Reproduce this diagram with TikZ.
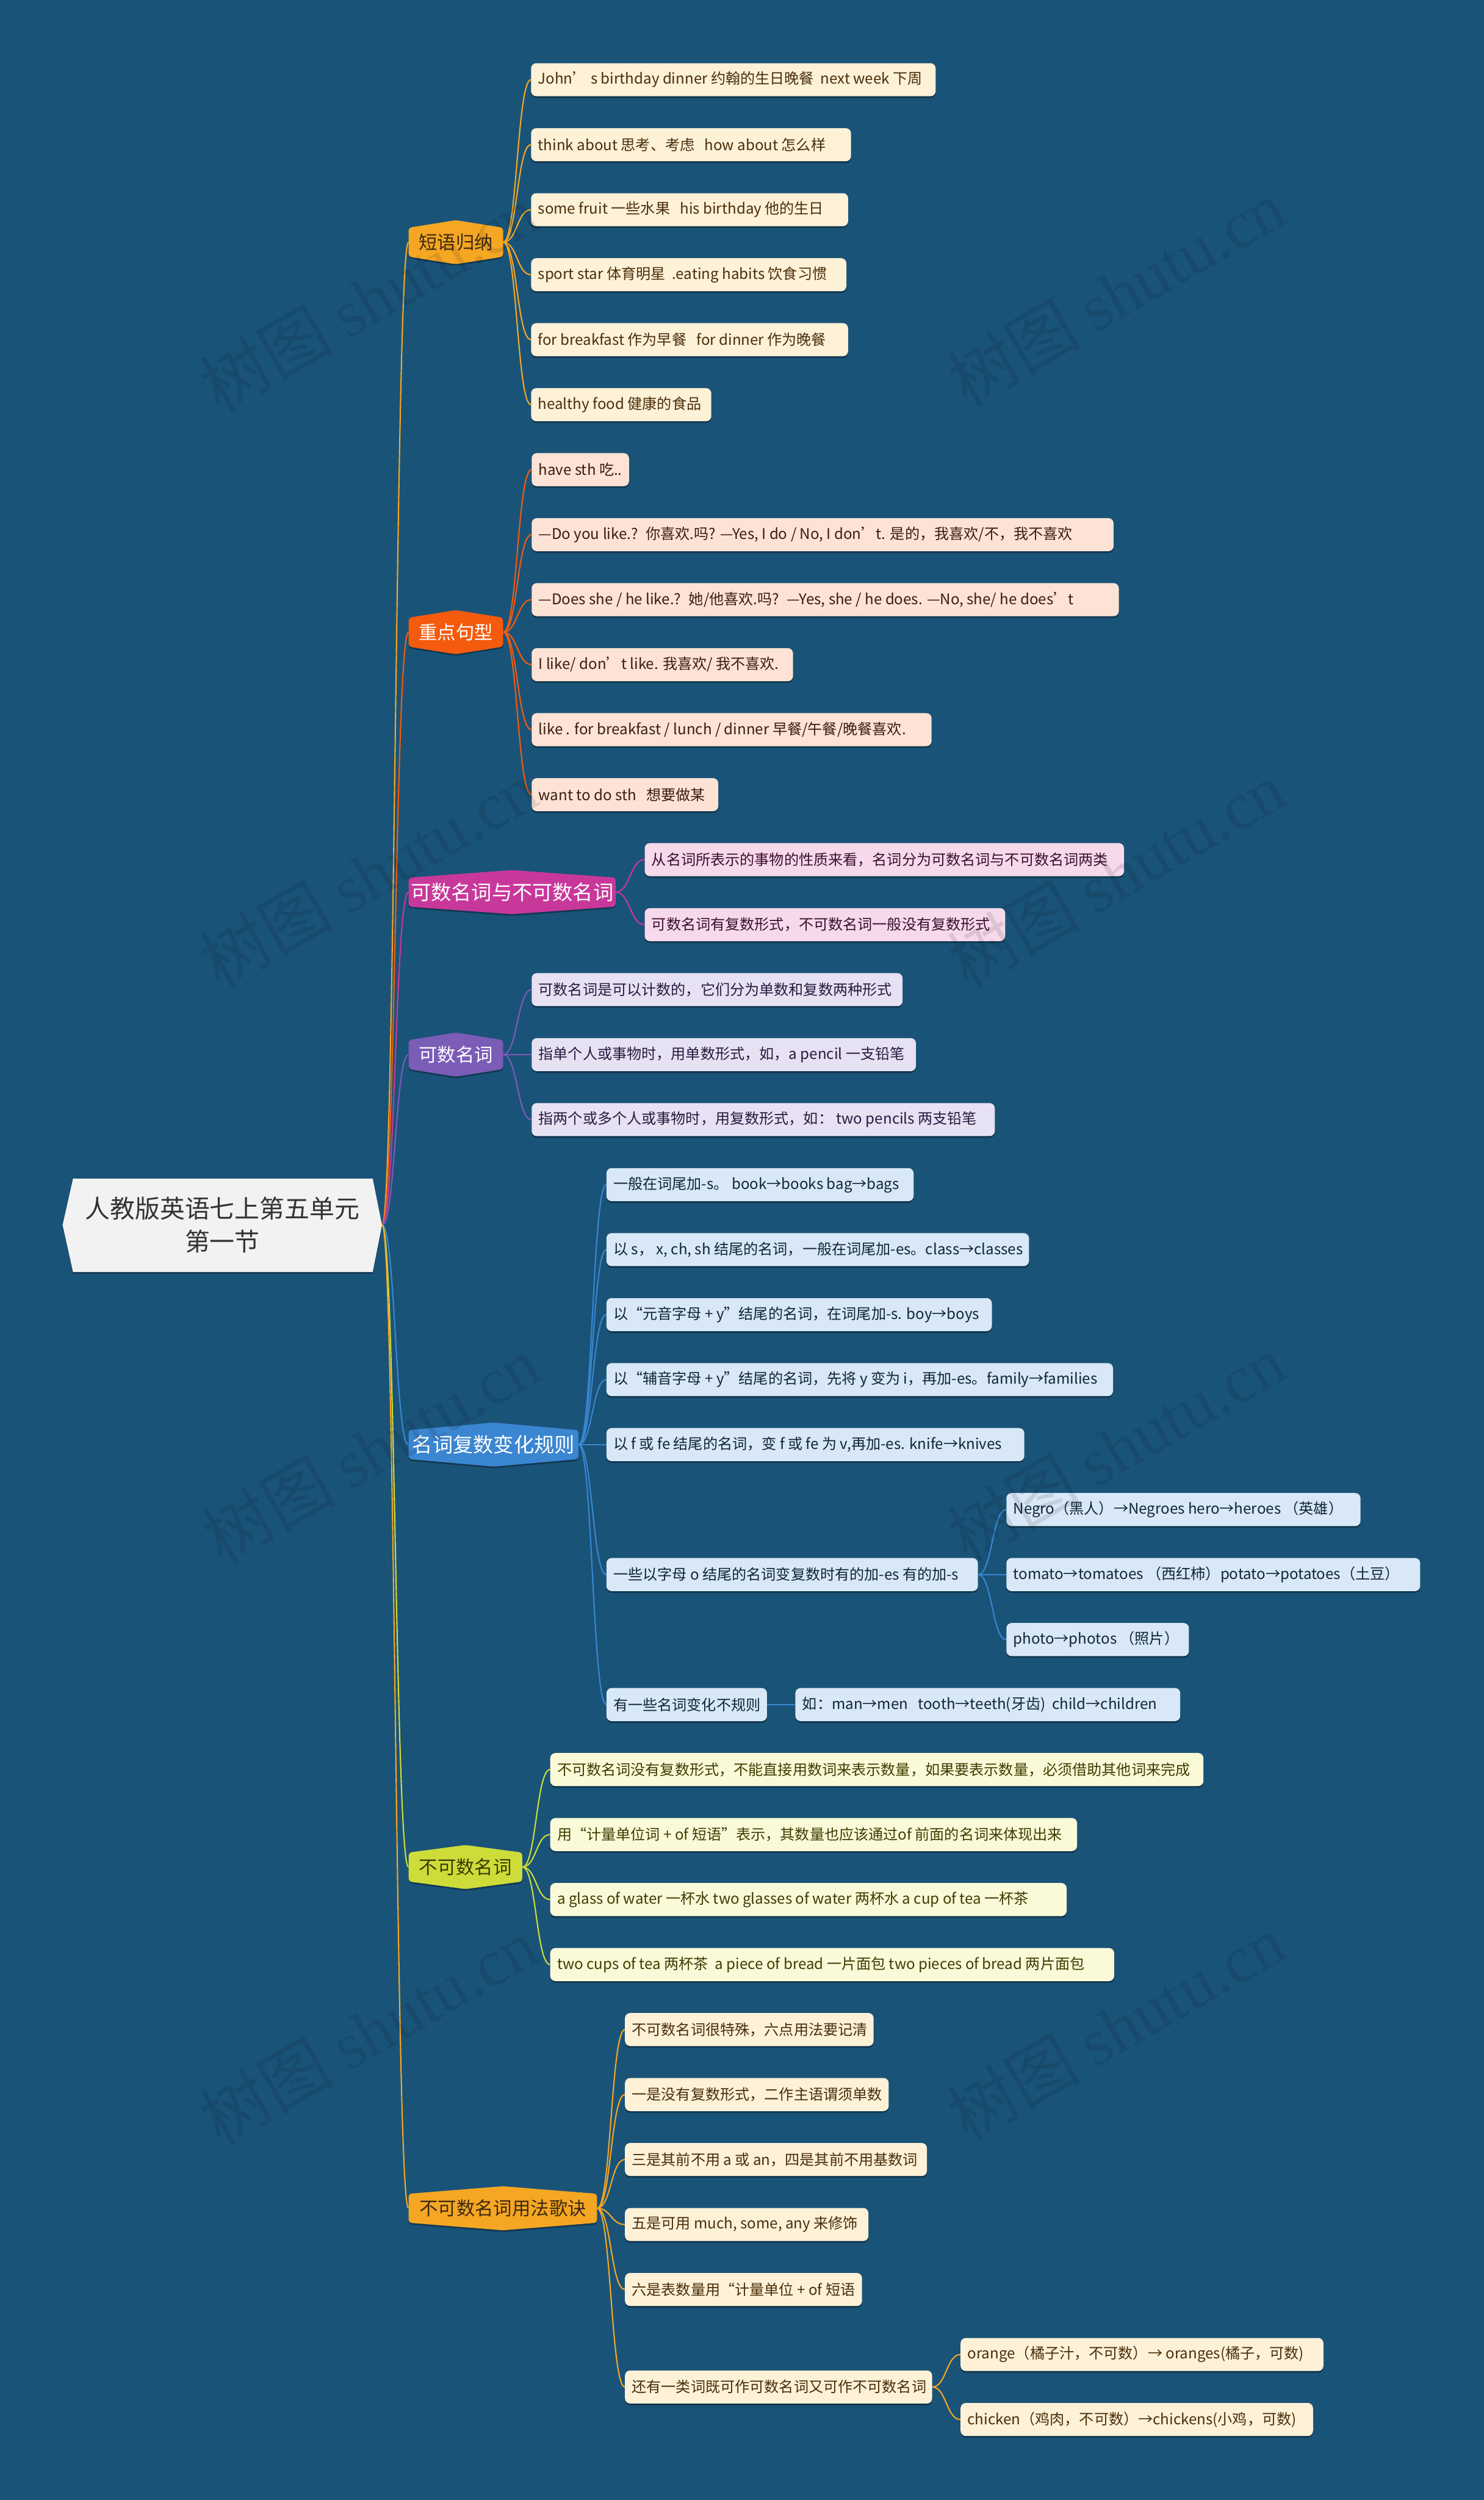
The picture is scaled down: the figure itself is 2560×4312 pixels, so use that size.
\documentclass[tikz,border=0pt]{standalone}
\usepackage{fontspec}
\setmainfont{Noto Sans CJK SC}
\newfontfamily\wmserif{Liberation Serif}
\usetikzlibrary{calc,shadows,backgrounds}
\definecolor{bg}{HTML}{1A5378}
\definecolor{cA}{HTML}{F5A623}
\definecolor{cB}{HTML}{F45B0D}
\definecolor{cC}{HTML}{C8389B}
\definecolor{cD}{HTML}{7B5CB7}
\definecolor{cE}{HTML}{3A86D1}
\definecolor{cF}{HTML}{CDDC39}
\definecolor{lA}{HTML}{FDF1D8}\definecolor{tA}{HTML}{4A2E0A}
\definecolor{lB}{HTML}{FDE3D5}\definecolor{tB}{HTML}{3A1D10}
\definecolor{lC}{HTML}{F7D9EC}\definecolor{tC}{HTML}{3B1030}
\definecolor{lD}{HTML}{E7E2F3}\definecolor{tD}{HTML}{261B3F}
\definecolor{lE}{HTML}{D8E8F6}\definecolor{tE}{HTML}{102539}
\definecolor{lF}{HTML}{FAFAD9}\definecolor{tF}{HTML}{3D3D00}
\definecolor{hA}{HTML}{3D2A10}
\definecolor{hF}{HTML}{3B3B00}
\definecolor{rootfill}{HTML}{F2F2F2}
\definecolor{roottext}{HTML}{333333}
\newcommand\leaffont{\fontsize{25.4pt}{30pt}\selectfont}
\newcommand\leaf[6]{\node[#1] (#2) at (#3,{137.5+112.1*#4}) {\makebox[\dimexpr#5pt-24pt\relax][l]{#6}};}
\newcommand\conn[3]{\draw[#1] let \p1=(#2), \p2=(#3) in (\p1) .. controls ({0.5*\x1+0.5*\x2},\y1) and ({0.5*\x1+0.5*\x2},\y2) .. (\p2);}
\newcommand\hexnode[8]{%
 \fill[black,opacity=0.3,rounded corners=5pt,yshift=-3pt] (#2,#4-25) -- ({(#2+#3)/2},#4-38) -- (#3,#4-25) -- (#3,#4+25) -- ({(#2+#3)/2},#4+38) -- (#2,#4+25) -- cycle;
 \fill[#5,rounded corners=5pt] (#2,#4-25) -- ({(#2+#3)/2},#4-38) -- (#3,#4-25) -- (#3,#4+25) -- ({(#2+#3)/2},#4+38) -- (#2,#4+25) -- cycle;
 \node[inner sep=0pt,minimum width={(#3-#2)*1pt},minimum height=50pt,text=#6,font=\fontsize{#7pt}{#7pt}\selectfont] (#1) at ({(#2+#3)/2},#4) {#8};}
\tikzset{
 leafbase/.style={anchor=west,rounded corners=9pt,minimum height=57pt,inner xsep=12pt,inner ysep=0pt,font=\leaffont,
   drop shadow={shadow xshift=0pt,shadow yshift=-3pt,opacity=0.35,fill=black}},
 leafA/.style={leafbase,fill=lA,text=tA},
 leafB/.style={leafbase,fill=lB,text=tB},
 leafC/.style={leafbase,fill=lC,text=tC},
 leafD/.style={leafbase,fill=lD,text=tD},
 leafE/.style={leafbase,fill=lE,text=tE},
 leafF/.style={leafbase,fill=lF,text=tF},
 link/.style={line width=2.2pt},
 lkA/.style={link,draw=cA},
 lkB/.style={link,draw=cB},
 lkC/.style={link,draw=cC},
 lkD/.style={link,draw=cD},
 lkE/.style={link,draw=cE},
 lkF/.style={link,draw=cF},
 wmark/.style={rotate=30,text=black,opacity=0.1,font=\fontsize{115pt}{115pt}\selectfont}
}
\begin{document}
\begin{tikzpicture}[x=1pt,y=-1pt]
\useasboundingbox (0,0) rectangle (2560,4312);
\begin{pgfonlayer}{background}
\fill[bg] (0,0) rectangle (2560,4312);
\end{pgfonlayer}
% root
\fill[black,opacity=0.3,yshift=-3pt] (108,2113) -- (126,2033) -- (643,2033) -- (659,2113) -- (643,2194) -- (126,2194) -- cycle;
\fill[rootfill] (108,2113) -- (126,2033) -- (643,2033) -- (659,2113) -- (643,2194) -- (126,2194) -- cycle;
\node[align=center,inner sep=0pt,minimum width=551pt,minimum height=161pt,text=roottext,font=\fontsize{43pt}{57pt}\selectfont] (root) at (383.5,2113) {人教版英语七上第五单元\\第一节};
% level 1
\hexnode{b1}{705}{868}{137.5+112.1*2.5}{cA}{hA}{32}{短语归纳}
\hexnode{b2}{705}{868}{137.5+112.1*8.5}{cB}{white}{32}{重点句型}
\hexnode{b3}{705}{1062}{137.5+112.1*12.5}{cC}{white}{35}{可数名词与不可数名词}
\hexnode{b4}{705}{868}{137.5+112.1*15}{cD}{white}{32}{可数名词}
\hexnode{b5}{705}{998}{137.5+112.1*21}{cE}{white}{35}{名词复数变化规则}
\hexnode{b6}{705}{901}{137.5+112.1*27.5}{cF}{hF}{32}{不可数名词}
\hexnode{b7}{705}{1030}{137.5+112.1*32.75}{cA}{hA}{32}{不可数名词用法歌诀}
% leaves
\leaf{leafA}{a0}{916}{0}{698}{John’ s birthday dinner 约翰的生日晚餐 \ next week 下周}
\leaf{leafA}{a1}{916}{1}{552}{think about 思考、考虑 \ \ how about 怎么样}
\leaf{leafA}{a2}{916}{2}{547}{some fruit 一些水果 \ \ his birthday 他的生日}
\leaf{leafA}{a3}{916}{3}{544}{sport star 体育明星 \ .eating habits 饮食习惯}
\leaf{leafA}{a4}{916}{4}{547}{for breakfast 作为早餐 \ \ for dinner 作为晚餐}
\leaf{leafA}{a5}{916}{5}{311}{healthy food 健康的食品}
\leaf{leafB}{a6}{917}{6}{168}{have sth 吃..}
\leaf{leafB}{a7}{917}{7}{1004}{—Do you like.? \ 你喜欢.吗? —Yes, I do / No, I don’t. 是的，我喜欢/不，我不喜欢}
\leaf{leafB}{a8}{917}{8}{1013}{—Does she / he like.? \ 她/他喜欢.吗? \ —Yes, she / he does. —No, she/ he does’t}
\leaf{leafB}{a9}{917}{9}{451}{I like/ don’t like. 我喜欢/ 我不喜欢.}
\leaf{leafB}{a10}{917}{10}{690}{like . for breakfast / lunch / dinner 早餐/午餐/晚餐喜欢.}
\leaf{leafB}{a11}{917}{11}{322}{want to do sth \ \ 想要做某}
\leaf{leafC}{a12}{1112}{12}{827}{从名词所表示的事物的性质来看，名词分为可数名词与不可数名词两类}
\leaf{leafC}{a13}{1112}{13}{622}{可数名词有复数形式，不可数名词一般没有复数形式}
\leaf{leafD}{a14}{917}{14}{640}{可数名词是可以计数的，它们分为单数和复数两种形式}
\leaf{leafD}{a15}{917}{15}{663}{指单个人或事物时，用单数形式，如，a pencil 一支铅笔}
\leaf{leafD}{a16}{917}{16}{799}{指两个或多个人或事物时，用复数形式，如： two pencils 两支铅笔}
\leaf{leafE}{a17}{1046}{17}{530}{一般在词尾加-s。 book→books bag→bags}
\leaf{leafE}{a18}{1046}{18}{729}{以 s， x, ch, sh 结尾的名词，一般在词尾加-es。class→classes}
\leaf{leafE}{a19}{1046}{19}{665}{以“元音字母 + y”结尾的名词，在词尾加-s. boy→boys}
\leaf{leafE}{a20}{1046}{20}{874}{以“辅音字母 + y”结尾的名词，先将 y 变为 i，再加-es。family→families}
\leaf{leafE}{a21}{1046}{21}{721}{以 f 或 fe 结尾的名词，变 f 或 fe 为 v,再加-es. knife→knives}
\leaf{leafE}{o23}{1046}{23}{641}{一些以字母 o 结尾的名词变复数时有的加-es 有的加-s}
\leaf{leafE}{a22}{1736}{22}{611}{Negro（黑人）→Negroes hero→heroes （英雄）}
\leaf{leafE}{a23}{1736}{23}{714}{tomato→tomatoes （西红柿）potato→potatoes（土豆）}
\leaf{leafE}{a24}{1736}{24}{315}{photo→photos （照片）}
\leaf{leafE}{a25}{1046}{25}{277}{有一些名词变化不规则}
\leaf{leafE}{a25b}{1372}{25}{664}{如：man→men \ \ tooth→teeth(牙齿) \ child→children}
\leaf{leafF}{a26}{949}{26}{1127}{不可数名词没有复数形式，不能直接用数词来表示数量，如果要表示数量，必须借助其他词来完成}
\leaf{leafF}{a27}{949}{27}{909}{用“计量单位词 + of 短语”表示，其数量也应该通过of 前面的名词来体现出来}
\leaf{leafF}{a28}{949}{28}{891}{a glass of water 一杯水 two glasses of water 两杯水 a cup of tea 一杯茶}
\leaf{leafF}{a29}{949}{29}{973}{two cups of tea 两杯茶 \ a piece of bread 一片面包 two pieces of bread 两片面包}
\leaf{leafA}{a30}{1078}{30}{429}{不可数名词很特殊，六点用法要记清}
\leaf{leafA}{a31}{1078}{31}{455}{一是没有复数形式，二作主语谓须单数}
\leaf{leafA}{a32}{1078}{32}{521}{三是其前不用 a 或 an，四是其前不用基数词}
\leaf{leafA}{a33}{1078}{33}{420}{五是可用 much, some, any 来修饰}
\leaf{leafA}{a34}{1078}{34}{409}{六是表数量用“计量单位 + of 短语}
\leaf{leafA}{a35m}{1078}{35.5}{530}{还有一类词既可作可数名词又可作不可数名词}
\leaf{leafA}{a35}{1657}{35}{626}{orange（橘子汁，不可数）→ oranges(橘子，可数)}
\leaf{leafA}{a36}{1657}{36}{608}{chicken（鸡肉，不可数）→chickens(小鸡，可数)}
% connectors (behind nodes)
\begin{pgfonlayer}{background}
\conn{lkA}{root.east}{b1.west}
\conn{lkB}{root.east}{b2.west}
\conn{lkC}{root.east}{b3.west}
\conn{lkD}{root.east}{b4.west}
\conn{lkE}{root.east}{b5.west}
\conn{lkF}{root.east}{b6.west}
\conn{lkA}{root.east}{b7.west}
\foreach \nd in {a0,a1,a2,a3,a4,a5}{\conn{lkA}{b1.east}{\nd.west}}
\foreach \nd in {a6,a7,a8,a9,a10,a11}{\conn{lkB}{b2.east}{\nd.west}}
\foreach \nd in {a12,a13}{\conn{lkC}{b3.east}{\nd.west}}
\foreach \nd in {a14,a15,a16}{\conn{lkD}{b4.east}{\nd.west}}
\foreach \nd in {a17,a18,a19,a20,a21,o23,a25}{\conn{lkE}{b5.east}{\nd.west}}
\foreach \nd in {a22,a23,a24}{\conn{lkE}{o23.east}{\nd.west}}
\conn{lkE}{a25.east}{a25b.west}
\foreach \nd in {a26,a27,a28,a29}{\conn{lkF}{b6.east}{\nd.west}}
\foreach \nd in {a30,a31,a32,a33,a34,a35m}{\conn{lkA}{b7.east}{\nd.west}}
\foreach \nd in {a35,a36}{\conn{lkA}{a35m.east}{\nd.west}}
\end{pgfonlayer}
% watermarks
\foreach \wx/\wy [count=\i] in {636/515,1925/505,636/1508,1925/1508,640/2500,1925/2497,636/3503,1925/3497}{
 \node[wmark] (wm\i) at (\wx,\wy) {树图 {\wmserif shutu.cn}};}
\end{tikzpicture}
\end{document}
